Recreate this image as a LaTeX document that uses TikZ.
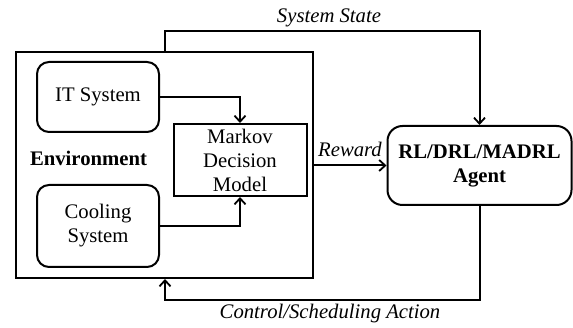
\documentclass[tikz,border=0pt]{standalone}
\usepackage{fontspec}
\setmainfont{Liberation Serif}
\usetikzlibrary{arrows.meta}
\begin{document}
\begin{tikzpicture}[x=1pt,y=-1pt,
  every node/.style={font=\fontsize{20.7}{24}\selectfont},
  arr/.style={line width=2pt,-{Straight Barb[length=6pt,width=11pt,line width=1.8pt]}},
  rbox/.style={draw,line width=2pt,rounded corners=12pt,align=center,inner sep=0pt},
  sbox/.style={draw,line width=2pt,align=center,inner sep=0pt},
  lbl/.style={font=\fontsize{20.7}{24}\selectfont\itshape}]
\useasboundingbox (0,0) rectangle (573,328);
\node[sbox,minimum width=297pt,minimum height=226pt] (env) at (164.5,165) {};
\node[font=\fontsize{20.7}{24}\selectfont\bfseries] (envl) at (88.5,158) {Environment};
\node[rbox,minimum width=122pt,minimum height=70pt] (it) at (98,97) {IT System};
\node[rbox,minimum width=122pt,minimum height=82pt] (cool) at (98,226) {Cooling\\System};
\node[sbox,minimum width=133pt,minimum height=72pt] (mdm) at (240,160) {Markov\\Decision\\Model};
\node[rbox,rounded corners=15pt,minimum width=184pt,minimum height=79pt,font=\fontsize{20.7}{24}\selectfont\bfseries] (agent) at (479.5,165.5) {RL/DRL/MADRL\\Agent};
\draw[arr] (it.east) -| (mdm.north);
\draw[arr] (cool.east) -| (mdm.south);
\coordinate (ss) at (165,31);
\draw[arr] (env.north -| ss) -- (ss) -| (agent.north);
\draw[arr] (env.east |- agent.west) -- (agent.west);
\coordinate (ca) at (165,300);
\draw[arr] (agent.south) |- (ca) -- (env.south -| ca);
\node[lbl] (sst) at (329,18) {System State};
\node[lbl] (rwd) at (350,149) {Reward};
\node[lbl] (cat) at (330,314) {Control/Scheduling Action};
\end{tikzpicture}
\end{document}
